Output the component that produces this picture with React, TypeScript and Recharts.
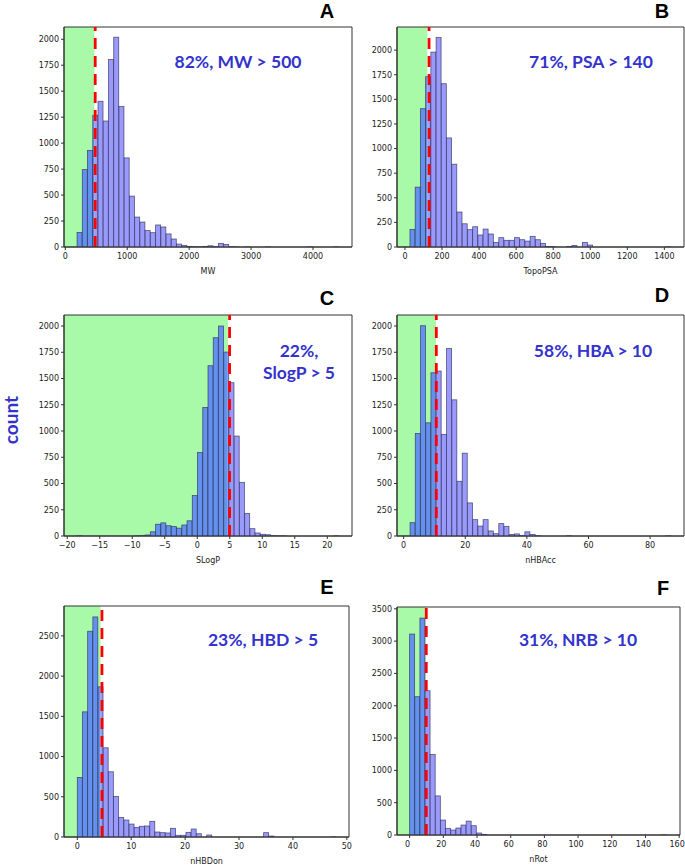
import React from "react";
import { ComposedChart, Bar, XAxis, YAxis, ReferenceArea, ReferenceLine } from "recharts";

// histogram counts, 50 equal bins per descriptor
const mwCounts = [
  140, 745, 930, 1268, 1403, 1213, 1805, 2020, 1352, 858,
  490, 288, 240, 158, 138, 212, 193, 126, 77, 28,
  16, 6, 3, 2, 4, 12, 3, 35, 25, 3,
  1, 0, 1, 0, 0, 0, 1, 0, 0, 0,
  0, 0, 0, 0, 1, 0, 0, 0, 0, 1,
];
const psaCounts = [
  179, 608, 1405, 1730, 1980, 2128, 1659, 1108, 841, 355,
  236, 176, 206, 122, 182, 132, 47, 95, 68, 68,
  95, 74, 60, 108, 74, 37, 5, 3, 0, 0,
  5, 15, 0, 47, 20, 0, 0, 0, 0, 0,
  0, 0, 0, 0, 0, 0, 0, 0, 0, 1,
];
const slogpCounts = [
  2, 0, 0, 0, 0, 0, 0, 0, 0, 0,
  0, 1, 3, 10, 40, 112, 125, 98, 90, 75,
  105, 145, 385, 795, 1225, 1622, 1889, 2000, 1752, 1460,
  952, 511, 215, 70, 29, 16, 12, 3, 1, 1,
  0, 0, 0, 0, 0, 0, 0, 0, 0, 1,
];
const hbaCounts = [
  127, 976, 2003, 1078, 1555, 1571, 967, 1787, 1297, 521,
  789, 315, 156, 95, 156, 48, 22, 118, 92, 15,
  20, 3, 40, 15, 3, 0, 0, 0, 0, 0,
  2, 0, 0, 0, 0, 0, 0, 0, 0, 0,
  0, 0, 0, 0, 0, 0, 0, 0, 0, 1,
];
const hbdCounts = [
  741, 1556, 2558, 2736, 1867, 1109, 811, 505, 244, 211,
  161, 120, 133, 137, 195, 62, 54, 50, 108, 21,
  21, 58, 99, 41, 0, 25, 0, 0, 0, 0,
  0, 0, 0, 0, 0, 0, 54, 12, 0, 0,
  0, 0, 0, 0, 0, 0, 0, 0, 0, 1,
];
const rotCounts = [
  3109, 2140, 3356, 2232, 1247, 605, 231, 103, 77, 108,
  154, 215, 144, 31, 10, 0, 0, 0, 0, 0,
  0, 0, 0, 0, 0, 0, 0, 0, 0, 0,
  0, 0, 0, 0, 0, 0, 0, 0, 0, 0,
  0, 0, 0, 0, 0, 0, 0, 0, 0, 1,
];

// first bin edge and bin width
const mwBins = { start: 190, width: 84.56 };
const psaBins = { start: 27, width: 28.2 };
const slogpBins = { start: -18.5, width: 0.806 };
const hbaBins = { start: 2.08, width: 1.694 };
const hbdBins = { start: 0, width: 0.96 };
const rotBins = { start: 0, width: 3.05 };

// tick labels
const mwTicks = [0, 1000, 2000, 3000, 4000];
const psaTicks = [0, 200, 400, 600, 800, 1000, 1200, 1400];
const slogpTicks = [-20, -15, -10, -5, 0, 5, 10, 15, 20];
const hbaTicks = [0, 20, 40, 60, 80];
const hbdTicks = [0, 10, 20, 30, 40, 50];
const rotTicks = [0, 20, 40, 60, 80, 100, 120, 140, 160];
const countTicks2000 = [0, 250, 500, 750, 1000, 1250, 1500, 1750, 2000];
const countTicks2500 = [0, 500, 1000, 1500, 2000, 2500];
const countTicks3500 = [0, 500, 1000, 1500, 2000, 2500, 3000, 3500];

const GREEN = "#a8faa8";
const DARK = "#6490ee";
const LIGHT = "#9a9afd";
const EDGE = "#2a2a55";
const INK = "#3333cc";
const AXIS = "#333";

const panels = [
  { id: "A", xLabel: "MW", counts: mwCounts, bins: mwBins, xDomain: [-21, 4630], xTicks: mwTicks, yMax: 2118, yTicks: countTicks2000, shade: 469, cut: 483, box: [64, 27, 288, 220], tickDx: 0 },
  { id: "B", xLabel: "TopoPSA", counts: psaCounts, bins: psaBins, xDomain: [-43, 1506], xTicks: psaTicks, yMax: 2235, yTicks: countTicks2000, shade: 121, cut: 130, box: [397, 27, 287, 220], tickDx: 0 },
  { id: "C", xLabel: "SLogP", counts: slogpCounts, bins: slogpBins, xDomain: [-20.5, 23.8], xTicks: slogpTicks, yMax: 2105, yTicks: countTicks2000, shade: 4.72, cut: 4.97, box: [64, 315, 288, 221], tickDx: 0 },
  { id: "D", xLabel: "nHBAcc", counts: hbaCounts, bins: hbaBins, xDomain: [-2.16, 91.0], xTicks: hbaTicks, yMax: 2105, yTicks: countTicks2000, shade: 10.49, cut: 10.6, box: [397, 315, 287, 221], tickDx: 0 },
  { id: "E", xLabel: "nHBDon", counts: hbdCounts, bins: hbdBins, xDomain: [-2.47, 50.4], xTicks: hbdTicks, yMax: 2872, yTicks: countTicks2500, shade: 4.32, cut: 4.57, box: [64, 606, 285, 231], tickDx: 0 },
  { id: "F", xLabel: "nRot", counts: rotCounts, bins: rotBins, xDomain: [-7.5, 160.5], xTicks: rotTicks, yMax: 3528, yTicks: countTicks3500, shade: 9.49, cut: 9.88, box: [397, 607, 283, 228], tickDx: -2 },
];

const notes = [
  { x: 238, y: 68, lines: ["82%, MW > 500"] },
  { x: 591, y: 68, lines: ["71%, PSA > 140"] },
  { x: 299, y: 357, lines: ["22%,", "SlogP > 5"] },
  { x: 593, y: 357, lines: ["58%, HBA > 10"] },
  { x: 263, y: 646, lines: ["23%, HBD > 5"] },
  { x: 578, y: 646, lines: ["31%, NRB > 10"] },
];
const letters = [
  { id: "A", x: 327, y: 18 }, { id: "B", x: 662, y: 18 },
  { id: "C", x: 327, y: 305 }, { id: "D", x: 662, y: 302 },
  { id: "E", x: 327, y: 594 }, { id: "F", x: 663, y: 595 },
];

const tickStyle = { fontSize: 8, fill: "#222", fontFamily: "DejaVu Sans" };
const fmt = (v: number) => String(v).replace("-", "\u2212");

function HistBar(props: any) {
  const { x, y, width, height, payload, shade } = props;
  if (!height || height <= 0) return null;
  const f = Math.max(0, Math.min(1, (shade - payload.lo) / (payload.hi - payload.lo)));
  const split = x + f * width;
  return (
    <g>
      {f > 0 && <rect x={x} y={y} width={split - x} height={height} fill={DARK} />}
      {f < 1 && <rect x={split} y={y} width={x + width - split} height={height} fill={LIGHT} />}
      <rect x={x} y={y} width={width} height={height} fill="none" stroke={EDGE} strokeOpacity={0.75} strokeWidth={0.8} />
    </g>
  );
}

function Panel({ p }: { p: any }) {
  const rows = p.counts.map((c: number, i: number) => ({
    lo: p.bins.start + i * p.bins.width,
    hi: p.bins.start + (i + 1) * p.bins.width,
    mid: p.bins.start + (i + 0.5) * p.bins.width,
    count: c,
  }));
  const [left, top, w, h] = p.box;
  const YW = 45, MT = 5, XH = 30, MR = 10;
  return (
    <div style={{ position: "absolute", left: left - YW, top: top - MT }}>
      <ComposedChart
        width={w + YW + MR}
        height={h + MT + XH}
        data={rows}
        margin={{ top: MT, right: MR, left: 0, bottom: 0 }}
        barCategoryGap={0}
        barGap={0}
      >
        <ReferenceArea x1={p.xDomain[0]} x2={p.shade} y1={0} y2={p.yMax} fill={GREEN} fillOpacity={1} stroke="none" />
        <XAxis
          dataKey="mid"
          type="number"
          domain={p.xDomain}
          allowDataOverflow
          ticks={p.xTicks}
          interval={0}
          tickFormatter={fmt}
          height={XH}
          tickSize={3}
          tickMargin={3}
          tick={{ ...tickStyle, dx: p.tickDx }}
          axisLine={{ stroke: AXIS }}
          tickLine={{ stroke: AXIS }}
          label={{ value: p.xLabel, position: "insideBottom", offset: 3.5, fontSize: 8, fill: "#222", fontFamily: "DejaVu Sans" }}
        />
        <YAxis
          type="number"
          domain={[0, p.yMax]}
          allowDataOverflow
          ticks={p.yTicks}
          interval={0}
          width={YW}
          tickSize={3}
          tickMargin={2}
          tick={tickStyle}
          axisLine={{ stroke: AXIS }}
          tickLine={{ stroke: AXIS }}
        />
        <Bar dataKey="count" isAnimationActive={false} shape={(bp: any) => <HistBar {...bp} shade={p.shade} />} />
        <ReferenceLine x={p.cut} stroke="#ff0000" strokeWidth={2.8} strokeDasharray="11 7" />
        <ReferenceArea x1={p.xDomain[0]} x2={p.xDomain[1]} y1={0} y2={p.yMax} fill="none" stroke={AXIS} strokeWidth={1} />
      </ComposedChart>
    </div>
  );
}

export default function App() {
  return (
    <div style={{ position: "absolute", left: 0, top: 0, width: 685, height: 866, background: "#fff", overflow: "hidden" }}>
      {panels.map((p) => <Panel key={p.id} p={p} />)}
      <svg width={685} height={866} style={{ position: "absolute", left: 0, top: 0, pointerEvents: "none" }}>
        {letters.map((l) => (
          <text key={l.id} x={l.x} y={l.y} textAnchor="middle" fontFamily="Liberation Sans, Arial" fontWeight="bold" fontSize={20} fill="#000">
            {l.id}
          </text>
        ))}
        {notes.map((n, i) => (
          <text key={i} x={n.x} y={n.y} textAnchor="middle" fontFamily="Lato" fontWeight="bold" fontSize={17.5} fill={INK}>
            {n.lines.map((s, j) => (
              <tspan key={j} x={n.x} dy={j === 0 ? 0 : 22}>{s}</tspan>
            ))}
          </text>
        ))}
        <text x={18} y={420} transform="rotate(-90 18 420)" textAnchor="middle" fontFamily="Lato" fontWeight="bold" fontSize={19} fill={INK}>
          count
        </text>
      </svg>
    </div>
  );
}
